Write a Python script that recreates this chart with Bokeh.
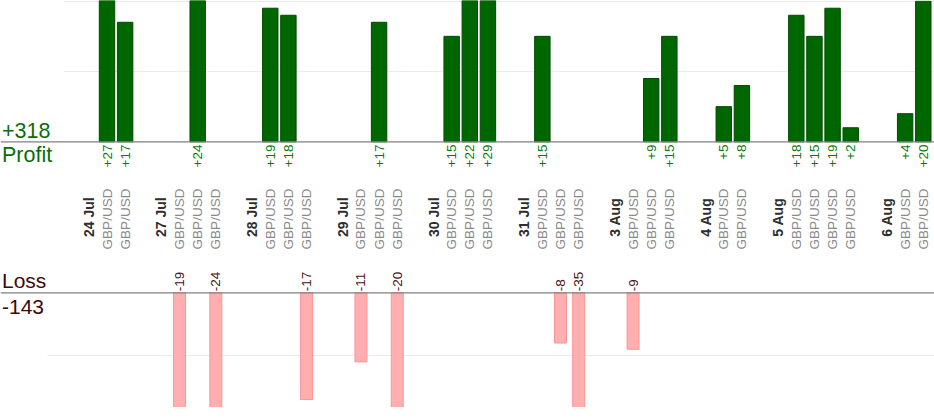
import math
from bokeh.plotting import figure
from bokeh.models import ColumnDataSource, Range1d, Span, Grid, FixedTicker
from bokeh.core.properties import value
from bokeh.embed import file_html
from bokeh.resources import INLINE

# ---------------- data ----------------
dates = ["24 Jul", "27 Jul", "28 Jul", "29 Jul", "30 Jul", "31 Jul",
         "3 Aug", "4 Aug", "5 Aug", "6 Aug"]
trades_per_day = [2, 3, 3, 3, 3, 3, 3, 2, 4, 2]
pair = "GBP/USD"
results = [27, 17,
           -19, 24, -24,
           19, 18, -17,
           -11, 17, -20,
           15, 22, 29,
           15, -8, -35,
           -9, 9, 15,
           5, 8,
           18, 15, 19, 2,
           4, 20]

# ---------------- slot layout (date label slot, trade slots, gap) ----------------
date_pos, trade_pos = [], []
idx = 0
for n in trades_per_day:
    date_pos.append(idx)
    idx += 1
    for _ in range(n):
        trade_pos.append(idx)
        idx += 1
    idx += 1

profit_x = [x for x, r in zip(trade_pos, results) if r > 0]
profit_v = [r for r in results if r > 0]
loss_x = [x for x, r in zip(trade_pos, results) if r < 0]
loss_v = [r for r in results if r < 0]
total_profit = sum(profit_v)
total_loss = sum(loss_v)

# ---------------- geometry ----------------
W, H = 934, 407
X0, UX = 88.36, 18.14        # slot 0 centre / px per slot
BT, UT = 141.3, 7.03          # profit baseline / px per unit
BB, UB = 292.3, 6.28          # loss baseline / px per unit

xr = Range1d(-X0 / UX, (W - X0) / UX)
yr = Range1d((BT - H) / UT, BT / UT)

p = figure(width=W, height=H, x_range=xr, y_range=yr,
           output_backend="svg", toolbar_location=None,
           x_axis_type=None, y_axis_type=None, min_border=0,
           background_fill_color="white", border_fill_color="white",
           outline_line_color=None)
p.extra_y_ranges = {"loss": Range1d((BB - H) / UB, BB / UB)}

FONT = value("Liberation Sans")

# grid lines
p.add_layout(Grid(dimension=1, ticker=FixedTicker(ticks=[10, 20]),
                  cross_bounds=((63 - X0) / UX, xr.end),
                  grid_line_color="#ebebeb", grid_line_width=1))
p.add_layout(Grid(dimension=1, ticker=FixedTicker(ticks=[-10]),
                  y_range_name="loss",
                  cross_bounds=((47 - X0) / UX, xr.end),
                  grid_line_color="#ebebeb", grid_line_width=1))

# bars
psrc = ColumnDataSource(dict(x=profit_x, v=profit_v,
                             lab=["+%d" % v for v in profit_v]))
lsrc = ColumnDataSource(dict(x=loss_x, v=loss_v,
                             lab=["%d" % v for v in loss_v]))

p.vbar(x="x", top="v", bottom=0, width=0.85, source=psrc,
       fill_color="#006600", line_color="#004c00", line_width=1)
p.vbar(x="x", top=0, bottom="v", width=0.66, source=lsrc, y_range_name="loss",
       fill_color="#ffafaf", line_color="#ff9494", line_width=1)

# baselines
p.add_layout(Span(location=0, dimension="width", line_color="#808080", line_width=1.2))
p.add_layout(Span(location=0, dimension="width", y_range_name="loss",
                  line_color="#808080", line_width=1.2))

# value labels
p.text(x="x", y=0, text="lab", source=psrc, angle=math.pi / 2,
       text_align="right", text_baseline="middle", y_offset=2.7,
       text_font=FONT, text_font_size="13.5px", text_color="#0a7a0a")
p.text(x="x", y=0, text="lab", source=lsrc, angle=math.pi / 2,
       y_range_name="loss",
       text_align="left", text_baseline="middle", y_offset=-1.6,
       text_font=FONT, text_font_size="13.5px", text_color="#4a1010")

# category labels
p.text(x=trade_pos, y=[0] * len(trade_pos), text=[pair] * len(trade_pos),
       angle=math.pi / 2, text_align="center", text_baseline="middle",
       y_offset=77.2, text_font=FONT, text_font_size="13.5px",
       text_color="#8a8a8a")
p.text(x=date_pos, y=[0] * len(date_pos), text=dates,
       angle=math.pi / 2, text_align="center", text_baseline="middle",
       y_offset=75.4, text_font=FONT, text_font_size="14px",
       text_font_style="bold", text_color="#2e2e2e")

# totals
p.text(x=[xr.start], y=[(BT - 130.0) / UT], text=["+%d" % total_profit],
       x_offset=1.5, text_align="left", text_baseline="middle",
       text_font=FONT, text_font_size="21.5px", text_color="#0a6e0a")
p.text(x=[xr.start], y=[(BT - 154.7) / UT], text=["Profit"],
       x_offset=1.5, text_align="left", text_baseline="middle",
       text_font=FONT, text_font_size="21.5px", text_color="#0a6e0a")
p.text(x=[xr.start], y=[(BB - 280.0) / UB], text=["Loss"], y_range_name="loss",
       x_offset=1.5, text_align="left", text_baseline="middle",
       text_font=FONT, text_font_size="21px", text_color="#400808")
p.text(x=[xr.start], y=[(BB - 306.2) / UB], text=["%d" % total_loss], y_range_name="loss",
       x_offset=1.5, text_align="left", text_baseline="middle",
       text_font=FONT, text_font_size="21px", text_color="#400808")

open("out.html", "w").write(file_html(p, INLINE))
